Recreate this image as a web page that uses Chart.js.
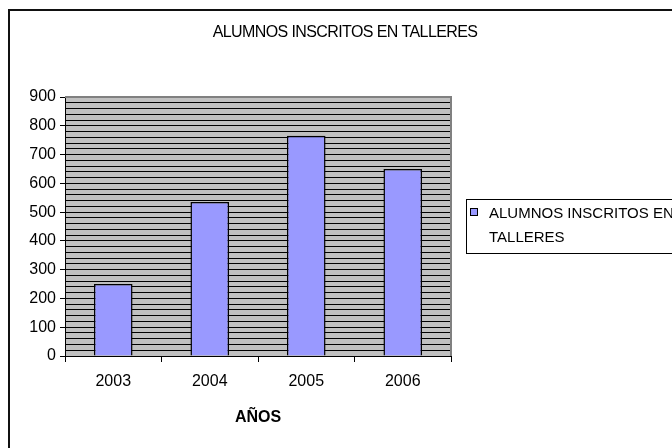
<!DOCTYPE html>
<html>
<head>
<meta charset="utf-8">
<script src="https://cdn.jsdelivr.net/npm/chart.js@4"></script>
<style>
  html, body { margin: 0; padding: 0; background: #fff; }
  #wrap { width: 672px; height: 448px; }
</style>
</head>
<body>
<div id="wrap"><canvas id="chartTalleres" width="672" height="448"></canvas></div>
<script>
/* ---- data ---- */
const YEARS = ["2003", "2004", "2005", "2006"];
const INSCRITOS = [250, 535, 765, 650];
const SERIES_LABEL = "ALUMNOS INSCRITOS EN TALLERES";
const CHART_TITLE = "ALUMNOS INSCRITOS EN TALLERES";
const X_TITLE = "AÑOS";
const Y_MIN = 0, Y_MAX = 900;
const LABEL_STEP = 100;  // labelled ticks
const GRID_STEP = 20;    // excel-style minor gridlines

/* ---- styles ---- */
const FONT = "'Liberation Sans', Arial, sans-serif";
const BAR = "#9999ff";
const PLOT_BG = "#c0c0c0";
const PLOT_EDGE = "#808080";
const INK = "#000";

const isMajor = (v) => v % LABEL_STEP === 0;

// plot background, title, legend, outer frame
const excelLook = {
  id: "excelLook",
  beforeDraw(chart) {
    const { ctx, chartArea: a } = chart;
    ctx.save();
    ctx.fillStyle = PLOT_BG;
    ctx.fillRect(a.left, a.top, a.right - a.left, a.bottom - a.top);
    ctx.restore();
  },
  afterDraw(chart) {
    const { ctx, chartArea: a } = chart;
    ctx.save();
    // plot edge top / right
    ctx.strokeStyle = PLOT_EDGE;
    ctx.lineWidth = 2;
    ctx.beginPath();
    ctx.moveTo(a.left, a.top);
    ctx.lineTo(a.right, a.top);
    ctx.lineTo(a.right, a.bottom);
    ctx.stroke();

    // outer frame
    ctx.strokeStyle = "#111";
    ctx.lineWidth = 2;
    ctx.strokeRect(9, 10, 720, 500);

    // title
    ctx.fillStyle = INK;
    ctx.font = "16px " + FONT;
    ctx.letterSpacing = "-0.6px";
    ctx.textAlign = "center";
    ctx.textBaseline = "middle";
    ctx.fillText(CHART_TITLE, 345, 33);

    // legend
    ctx.lineWidth = 1;
    ctx.strokeStyle = INK;
    ctx.strokeRect(466.5, 199.5, 300, 54);
    ctx.fillStyle = BAR;
    ctx.fillRect(470, 208, 8, 8);
    ctx.strokeRect(470.5, 208.5, 7, 7);
    ctx.font = "15px " + FONT;
    ctx.letterSpacing = "0px";
    ctx.textAlign = "left";
    ctx.fillStyle = INK;
    const words = chart.data.datasets[0].label.split(" ");
    const lines = [];
    let cur = "";
    for (const w of words) {
      const t = cur ? cur + " " + w : w;
      if (ctx.measureText(t).width > 190 && cur) { lines.push(cur); cur = w; }
      else cur = t;
    }
    if (cur) lines.push(cur);
    lines.forEach((l, i) => ctx.fillText(l, 489, 214 + i * 24));
    ctx.restore();
  },
};

new Chart(document.getElementById("chartTalleres").getContext("2d"), {
  type: "bar",
  data: {
    labels: YEARS,
    datasets: [{
      label: SERIES_LABEL,
      data: INSCRITOS,
      backgroundColor: BAR,
      borderColor: INK,
      borderWidth: 1.5,
      barPercentage: 0.4,
      categoryPercentage: 1.0,
    }],
  },
  options: {
    responsive: false,
    animation: false,
    devicePixelRatio: 1,
    layout: { padding: { left: 0, top: 97, right: 221, bottom: 0 } },
    plugins: { legend: { display: false }, title: { display: false }, tooltip: { enabled: false } },
    scales: {
      x: {
        offset: true,
        grid: { offset: true, drawOnChartArea: false, tickLength: 6, color: INK },
        border: { color: INK, width: 1 },
        ticks: { color: INK, font: { family: FONT, size: 16 }, padding: 10 },
        title: { display: true, text: X_TITLE, color: INK, font: { family: FONT, size: 16, weight: "bold" }, padding: { top: 0, bottom: 21 } },
        afterFit: (s) => { s.height = 92; },
      },
      y: {
        min: Y_MIN, max: Y_MAX,
        grid: {
          color: INK,
          tickLength: 5,
          tickColor: (c) => (c.tick && isMajor(c.tick.value) ? INK : "rgba(0,0,0,0)"),
        },
        border: { color: INK, width: 1 },
        ticks: {
          stepSize: GRID_STEP, autoSkip: false, color: INK, padding: 4,
          font: { family: FONT, size: 16 },
          callback: (v) => (isMajor(v) ? String(v) : ""),
        },
        afterFit: (s) => { s.width = 65; },
      },
    },
  },
  plugins: [excelLook],
});
</script>
</body>
</html>
